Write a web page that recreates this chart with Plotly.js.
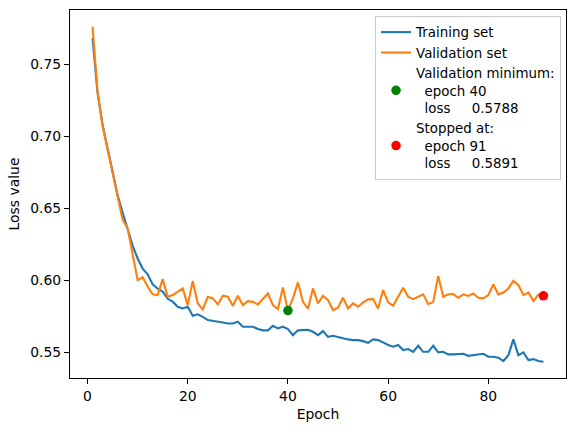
<!DOCTYPE html>
<html>
<head>
<meta charset="utf-8">
<script src="https://cdn.plot.ly/plotly-3.0.1.min.js"></script>
<style>
  html, body { margin: 0; padding: 0; background: #fff; }
  #chart { width: 576px; height: 432px; }
</style>
</head>
<body>
<div id="chart"></div>
<script>
// Epoch numbers (1..91)
const epochs = [
  1, 2, 3, 4, 5, 6, 7, 8, 9, 10, 11, 12, 13, 14, 15, 16, 17, 18, 19, 20,
  21, 22, 23, 24, 25, 26, 27, 28, 29, 30, 31, 32, 33, 34, 35, 36, 37, 38, 39, 40,
  41, 42, 43, 44, 45, 46, 47, 48, 49, 50, 51, 52, 53, 54, 55, 56, 57, 58, 59, 60,
  61, 62, 63, 64, 65, 66, 67, 68, 69, 70, 71, 72, 73, 74, 75, 76, 77, 78, 79, 80,
  81, 82, 83, 84, 85, 86, 87, 88, 89, 90, 91
];

// Training loss per epoch
const trainLoss = [
  0.768, 0.730, 0.708, 0.692, 0.676, 0.659, 0.647, 0.636, 0.624, 0.615,
  0.608, 0.604, 0.597, 0.594, 0.592, 0.587, 0.585, 0.5815, 0.5803, 0.5815,
  0.5752, 0.5762, 0.5745, 0.5722, 0.5718, 0.5711, 0.5706, 0.5699, 0.5699, 0.5711,
  0.5676, 0.5676, 0.5676, 0.5660, 0.5651, 0.5651, 0.5683, 0.5664, 0.5676, 0.5660,
  0.5618, 0.5651, 0.5655, 0.5655, 0.5641, 0.5618, 0.5646, 0.5606, 0.5613, 0.5604,
  0.5595, 0.5588, 0.5583, 0.5583, 0.5576, 0.5565, 0.5588, 0.5583, 0.5567, 0.5549,
  0.5537, 0.5549, 0.5514, 0.5521, 0.5502, 0.5544, 0.5502, 0.5502, 0.5544, 0.5498,
  0.5502, 0.5484, 0.5484, 0.5488, 0.5488, 0.5474, 0.5479, 0.5484, 0.5488, 0.5468,
  0.5468, 0.5461, 0.5438, 0.5479, 0.5588, 0.5479, 0.5498, 0.5444, 0.5451, 0.5438,
  0.5433
];

// Validation loss per epoch
const valLoss = [
  0.776, 0.731, 0.707, 0.691, 0.675, 0.657, 0.642, 0.636, 0.617, 0.600,
  0.602, 0.5955, 0.5901, 0.5896, 0.6007, 0.5884, 0.5896, 0.5919, 0.5942, 0.5826,
  0.5993, 0.5838, 0.5796, 0.5884, 0.5873, 0.5831, 0.5891, 0.5884, 0.5822, 0.5891,
  0.5826, 0.5854, 0.5849, 0.5831, 0.5873, 0.5907, 0.5826, 0.5799, 0.5949, 0.5788,
  0.5873, 0.5984, 0.5849, 0.5801, 0.5942, 0.5838, 0.5891, 0.5861, 0.5792, 0.5808,
  0.5877, 0.5803, 0.5838, 0.5815, 0.5845, 0.5866, 0.5868, 0.5803, 0.5931, 0.5845,
  0.5822, 0.5884, 0.5947, 0.5884, 0.5868, 0.5884, 0.5901, 0.5833, 0.5849, 0.6028,
  0.5884, 0.5901, 0.5903, 0.5877, 0.5901, 0.5890, 0.5907, 0.5877, 0.5873, 0.5896,
  0.5970, 0.5901, 0.5914, 0.5942, 0.5995, 0.5965, 0.5896, 0.5914, 0.5854, 0.5901,
  0.5891
];

// Highlighted epochs
const bestEpoch = 40;
const stopEpoch = 91;
const bestLoss = valLoss[epochs.indexOf(bestEpoch)];
const stopLoss = valLoss[epochs.indexOf(stopEpoch)];

const xTicks = [0, 20, 40, 60, 80];
const yTicks = [0.55, 0.60, 0.65, 0.70, 0.75];

const NB = '\u00a0';
const sp = n => NB.repeat(n);
const FONT = 'DejaVu Sans';
const FS = 13.9;

const traces = [
  {
    x: epochs, y: trainLoss, type: 'scatter', mode: 'lines',
    name: 'Training set',
    line: { color: '#1f77b4', width: 2.1 }
  },
  {
    x: epochs, y: valLoss, type: 'scatter', mode: 'lines',
    name: 'Validation set',
    line: { color: '#ff7f0e', width: 2.1 }
  },
  {
    x: [bestEpoch], y: [bestLoss], type: 'scatter', mode: 'markers',
    name: 'Validation minimum:<br>' + sp(2) + 'epoch ' + bestEpoch +
          '<br>' + sp(2) + 'loss' + sp(5) + bestLoss.toFixed(4),
    marker: { color: '#008000', size: 9.5 }
  },
  {
    x: [stopEpoch], y: [stopLoss], type: 'scatter', mode: 'markers',
    name: 'Stopped at:<br>' + sp(2) + 'epoch ' + stopEpoch +
          '<br>' + sp(2) + 'loss' + sp(5) + stopLoss.toFixed(4),
    marker: { color: '#ff0000', size: 9.5 }
  }
];

const axisCommon = {
  showline: true, mirror: true, linecolor: '#000', linewidth: 1,
  ticks: 'outside', ticklen: 5, tickwidth: 1, tickcolor: '#000',
  showgrid: false, zeroline: false,
  tickfont: { family: FONT, size: FS, color: '#000' }
};

const layout = {
  width: 576, height: 432,
  margin: { l: 70, r: 10, t: 10, b: 54 },
  paper_bgcolor: '#fff', plot_bgcolor: '#fff',
  font: { family: FONT, size: FS, color: '#000' },
  showlegend: true,
  xaxis: Object.assign({}, axisCommon, {
    range: [-3.5, 95.5],
    tickvals: xTicks,
    ticktext: xTicks.map(String),
    title: { text: 'Epoch', font: { family: FONT, size: FS }, standoff: 6 }
  }),
  yaxis: Object.assign({}, axisCommon, {
    range: [0.532, 0.7876],
    tickvals: yTicks,
    ticktext: yTicks.map(v => v.toFixed(2)),
    title: { text: 'Loss value', font: { family: FONT, size: FS }, standoff: 7 }
  }),
  legend: {
    x: 0.99, xanchor: 'right', y: 0.984, yanchor: 'top',
    bgcolor: 'rgba(255,255,255,0.8)',
    bordercolor: '#cccccc', borderwidth: 1,
    font: { family: FONT, size: 13.4, color: '#000' },
    valign: 'middle',
    tracegroupgap: 0
  }
};

Plotly.newPlot('chart', traces, layout, { staticPlot: true, displayModeBar: false });
</script>
</body>
</html>
